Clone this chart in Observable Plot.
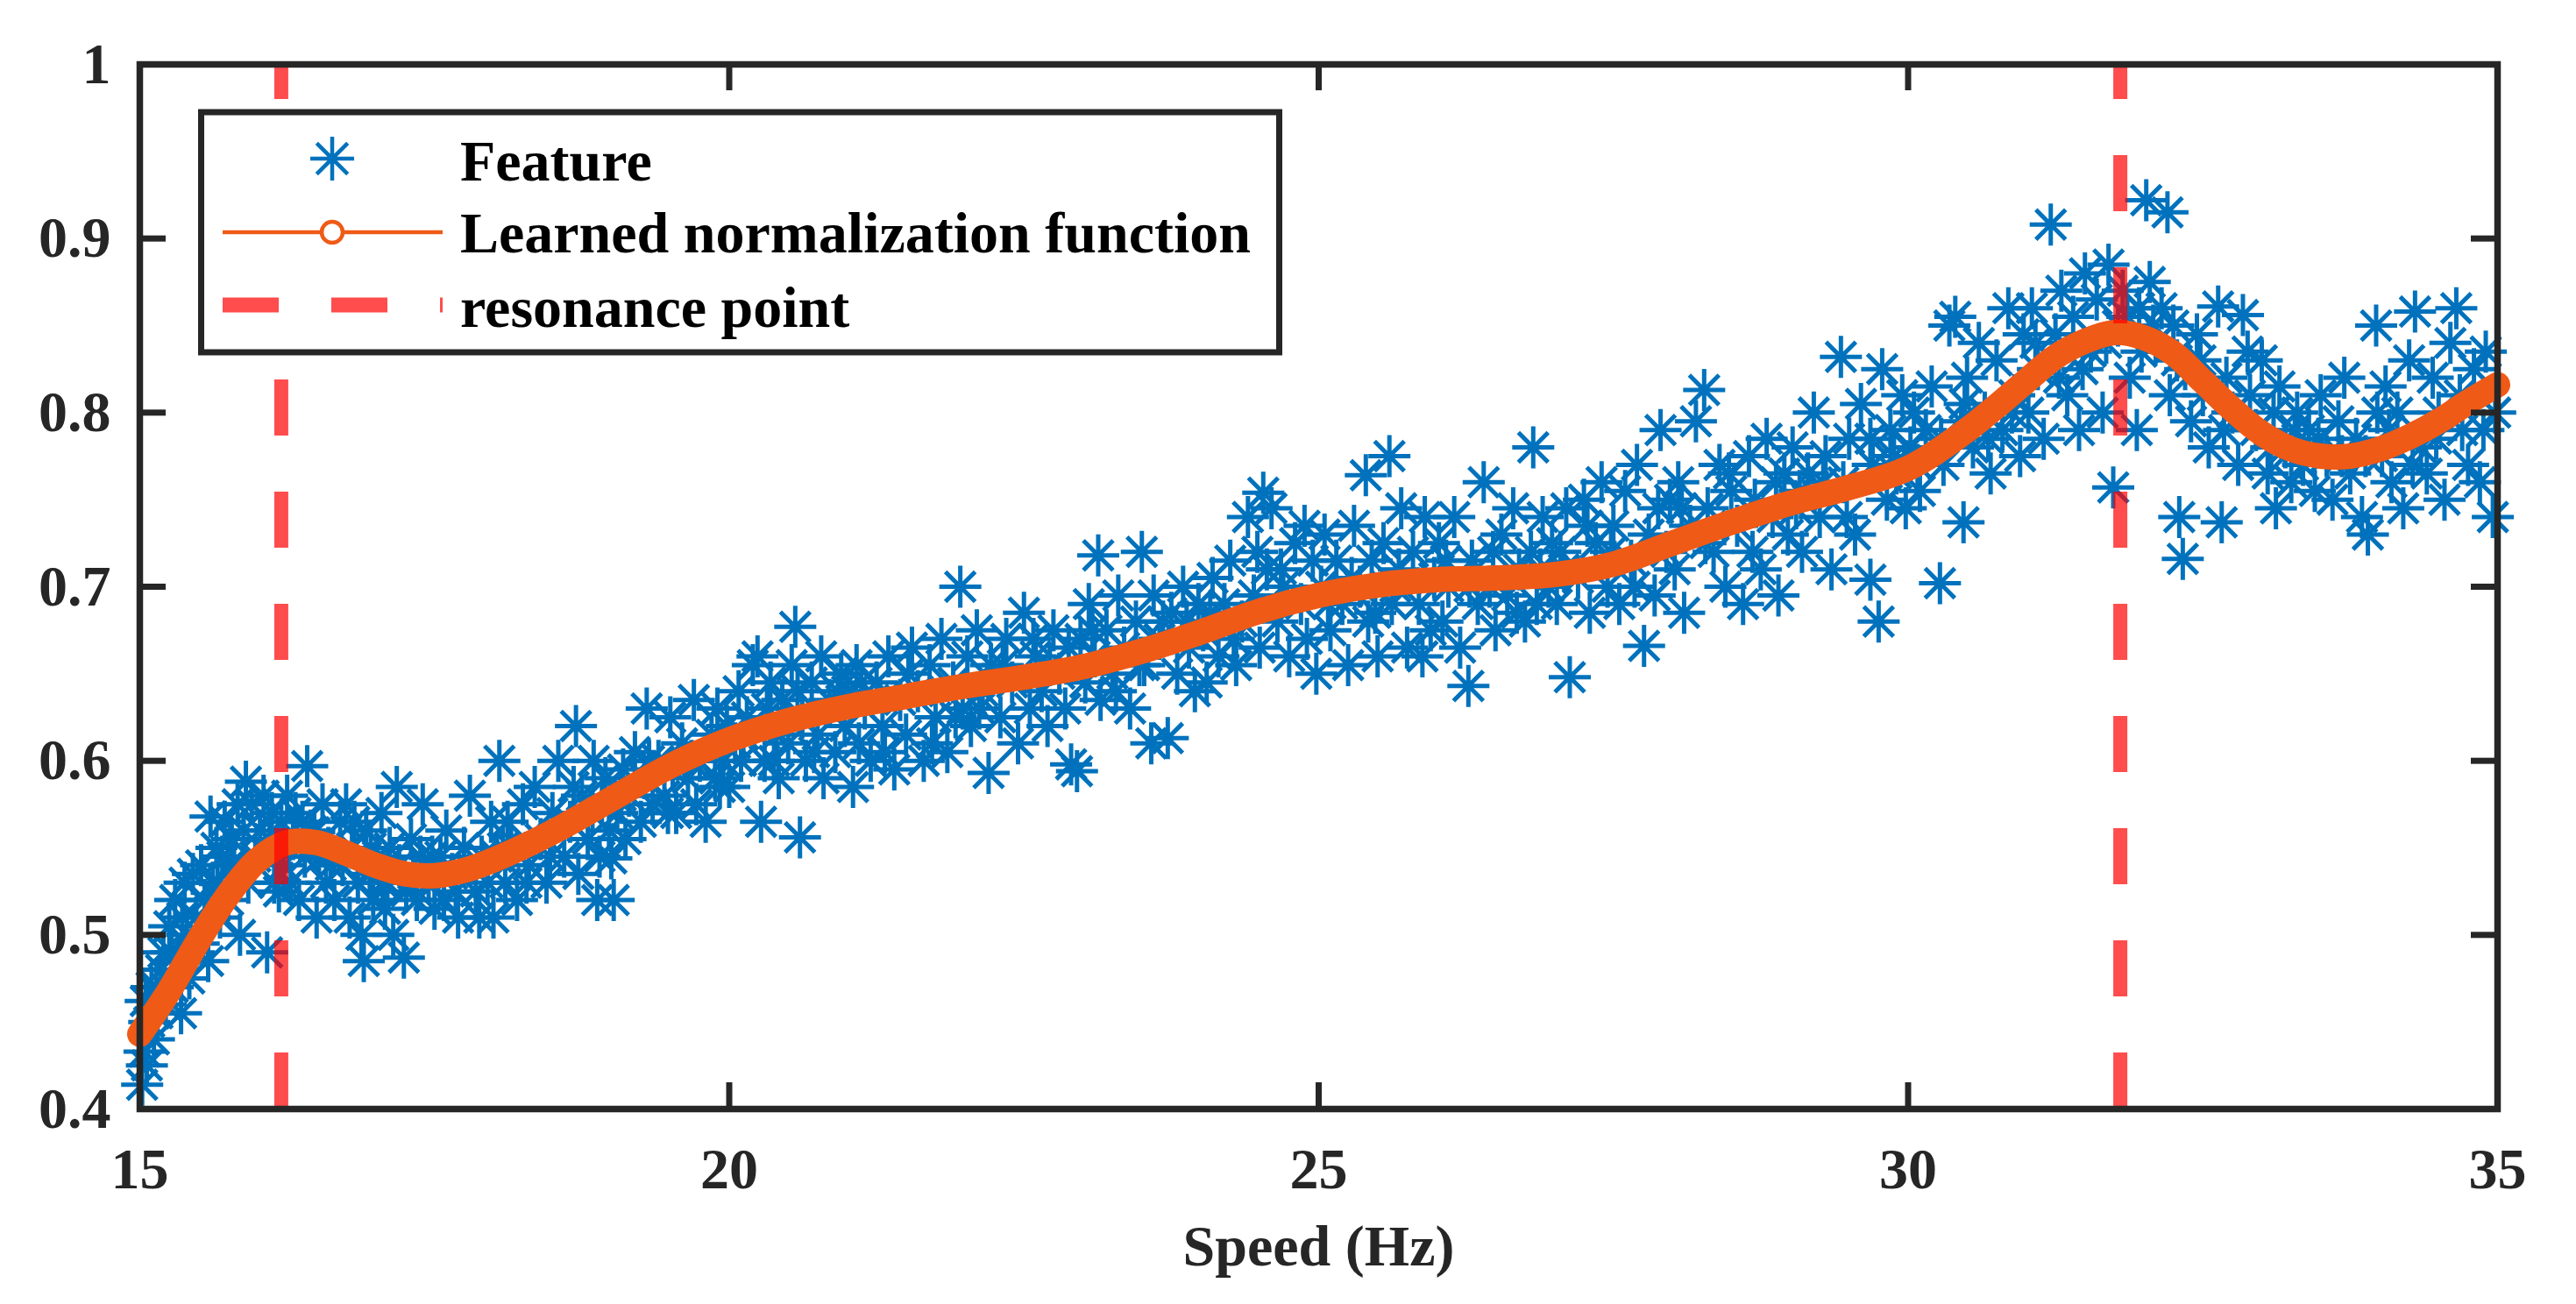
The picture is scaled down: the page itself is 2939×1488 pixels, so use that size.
<!DOCTYPE html>
<html>
<head>
<meta charset="utf-8">
<script src="https://cdn.jsdelivr.net/npm/d3@7"></script>
<script src="https://cdn.jsdelivr.net/npm/@observablehq/plot@0.6"></script>
<style>
  body { margin: 0; background: #fff; overflow: hidden; }
  #wrap { position: relative; width: 2939px; height: 1488px; }
  #legend { position: absolute; left: 222px; top: 120px; }
</style>
</head>
<body>
<div id="wrap">
  <div id="grafico"></div>
  <svg id="legend" width="1250" height="295"></svg>
</div>
<script>
// ejes
const xTicks = [15, 20, 25, 30, 35]
const yTicks = [0.4, 0.5, 0.6, 0.7, 0.8, 0.9, 1]
const xLabel = 'Speed (Hz)'
const legendLabels = ['Feature', 'Learned normalization function', 'resonance point']

// puntos de resonancia (Hz)
const resonance = [16.2, 31.8]

// curva aprendida
const curveSpeed = [15, 15.25, 15.5, 15.75, 16, 16.25, 16.5, 16.75, 17, 17.25, 17.5, 17.75, 18, 18.5, 19, 19.5,
  20, 20.5, 21, 21.5, 22, 22.5, 23, 23.5, 24, 24.5, 25, 25.5, 26, 26.5, 27, 27.5, 28, 28.5, 29, 29.5,
  30, 30.5, 31, 31.25, 31.5, 31.75, 32, 32.25, 32.5, 32.75, 33, 33.25, 33.5, 33.75, 34, 34.25, 34.5, 34.75, 35]
const curveValue = [0.443, 0.468, 0.497, 0.523, 0.543, 0.553, 0.553, 0.547, 0.54, 0.535, 0.534, 0.537, 0.543, 0.559, 0.578, 0.597,
  0.612, 0.623, 0.631, 0.637, 0.643, 0.648, 0.654, 0.663, 0.674, 0.686, 0.695, 0.701, 0.704, 0.705, 0.707, 0.713, 0.725, 0.737, 0.748, 0.757,
  0.768, 0.79, 0.818, 0.832, 0.841, 0.846, 0.843, 0.834, 0.818, 0.802, 0.788, 0.779, 0.775, 0.775, 0.779, 0.786, 0.795, 0.806, 0.816]

// features [speed, value]
const featurePoints = [
  [15.02,0.414],[15.04,0.433],[15.05,0.462],[15.08,0.45],[15.1,0.47],[15.12,0.44],[15.15,0.455],[15.18,0.48],[15.2,0.49],[15.22,0.46],
  [15.25,0.505],[15.28,0.47],[15.3,0.52],[15.32,0.485],[15.35,0.455],[15.38,0.53],[15.4,0.5],[15.42,0.475],[15.45,0.535],[15.48,0.51],
  [15.5,0.495],[15.52,0.54],[15.55,0.52],[15.58,0.485],[15.6,0.568],[15.62,0.53],[15.65,0.55],[15.68,0.51],[15.7,0.545],[15.72,0.565],
  [15.75,0.52],[15.78,0.555],[15.8,0.54],[15.83,0.575],[15.85,0.5],[15.88,0.56],[15.9,0.588],[15.92,0.53],[15.95,0.575],[15.98,0.545],
  [15.06,0.425],[15.14,0.47],[15.27,0.49],[15.36,0.51],[15.46,0.49],[15.66,0.53],[15.76,0.54],
  [16.02,0.56],[16.05,0.58],[16.08,0.49],[16.1,0.555],[16.12,0.57],[16.15,0.545],[16.18,0.525],[16.2,0.565],[16.22,0.54],[16.25,0.58],
  [16.28,0.53],[16.3,0.555],[16.32,0.57],[16.35,0.52],[16.4,0.545],[16.42,0.597],[16.45,0.56],[16.48,0.559],[16.5,0.51],[16.52,0.544],
  [16.55,0.575],[16.58,0.53],[16.6,0.55],[16.65,0.52],[16.7,0.565],[16.72,0.54],[16.75,0.575],[16.78,0.51],[16.8,0.55],[16.85,0.53],
  [16.88,0.5],[16.9,0.485],[16.92,0.56],[16.95,0.535],[16.98,0.52],
  [16.14,0.53],[16.38,0.565],[16.62,0.54],[16.82,0.565],[16.96,0.55],
  [17.02,0.545],[17.05,0.57],[17.08,0.515],[17.1,0.53],[17.12,0.55],[17.15,0.5],[17.18,0.585],[17.2,0.54],[17.24,0.487],[17.26,0.525],
  [17.3,0.555],[17.35,0.52],[17.38,0.545],[17.4,0.575],[17.45,0.53],[17.5,0.515],[17.55,0.545],[17.58,0.52],[17.6,0.56],[17.65,0.535],
  [17.7,0.51],[17.75,0.55],[17.8,0.58],[17.85,0.525],[17.9,0.545],[17.95,0.53],[17.98,0.565],
  [17.06,0.53],[17.32,0.535],[17.48,0.545],[17.68,0.525],[17.88,0.51],
  [18.0,0.51],[18.03,0.545],[18.05,0.6],[18.1,0.53],[18.12,0.565],[18.15,0.55],[18.2,0.52],[18.25,0.575],[18.3,0.54],[18.35,0.585],
  [18.4,0.555],[18.45,0.53],[18.5,0.57],[18.55,0.6],[18.6,0.545],[18.65,0.565],[18.7,0.62],[18.72,0.535],[18.75,0.58],[18.8,0.555],
  [18.85,0.6],[18.88,0.52],[18.9,0.545],[18.92,0.575],[18.95,0.59],[18.98,0.56],
  [18.08,0.55],[18.28,0.53],[18.48,0.545],[18.68,0.585],[18.84,0.57],
  [19.0,0.544],[19.02,0.52],[19.05,0.57],[19.1,0.595],[19.12,0.555],[19.15,0.58],[19.2,0.605],[19.25,0.565],[19.28,0.59],[19.3,0.63],
  [19.35,0.575],[19.4,0.6],[19.45,0.58],[19.5,0.625],[19.52,0.595],[19.55,0.57],[19.6,0.61],[19.65,0.59],[19.7,0.635],[19.72,0.575],
  [19.75,0.6],[19.8,0.565],[19.85,0.615],[19.88,0.59],[19.9,0.63],[19.95,0.6],[19.98,0.62],
  [19.08,0.58],[19.32,0.6],[19.48,0.57],[19.68,0.6],[19.92,0.585],
  [20.0,0.585],[20.05,0.61],[20.08,0.64],[20.1,0.6],[20.15,0.625],[20.2,0.655],[20.24,0.66],[20.27,0.565],[20.3,0.6],[20.32,0.63],
  [20.35,0.645],[20.4,0.615],[20.42,0.59],[20.45,0.635],[20.5,0.61],[20.53,0.655],[20.56,0.677],[20.6,0.556],[20.62,0.625],[20.65,0.6],
  [20.7,0.645],[20.75,0.615],[20.78,0.66],[20.8,0.59],[20.85,0.635],[20.9,0.605],[20.95,0.65],[20.98,0.62],
  [20.12,0.615],[20.38,0.6],[20.58,0.64],[20.72,0.605],[20.92,0.64],
  [21.0,0.64],[21.05,0.585],[21.08,0.655],[21.1,0.61],[21.15,0.63],[21.2,0.6],[21.25,0.645],[21.3,0.62],[21.35,0.66],[21.4,0.595],
  [21.45,0.635],[21.5,0.615],[21.55,0.665],[21.6,0.64],[21.65,0.6],[21.7,0.655],[21.75,0.625],[21.8,0.67],[21.85,0.605],[21.9,0.645],
  [21.96,0.7],[21.98,0.63],
  [21.12,0.645],[21.32,0.605],[21.52,0.65],[21.72,0.61],[21.92,0.625],
  [22.02,0.66],[22.05,0.62],[22.1,0.675],[22.15,0.64],[22.2,0.593],[22.22,0.655],[22.3,0.625],[22.35,0.67],[22.4,0.645],[22.45,0.61],
  [22.5,0.685],[22.55,0.63],[22.6,0.66],[22.65,0.64],[22.7,0.62],[22.75,0.675],[22.8,0.65],[22.85,0.63],[22.9,0.598],[22.95,0.594],
  [22.98,0.67],
  [22.12,0.63],[22.32,0.655],[22.58,0.67],[22.72,0.655],[22.88,0.665],
  [23.02,0.645],[23.05,0.69],[23.1,0.66],[23.13,0.718],[23.15,0.635],[23.2,0.675],[23.25,0.65],[23.3,0.695],[23.35,0.665],[23.4,0.63],
  [23.45,0.68],[23.5,0.72],[23.52,0.655],[23.58,0.61],[23.6,0.695],[23.65,0.67],[23.72,0.613],[23.75,0.685],[23.8,0.65],[23.85,0.7],
  [23.9,0.665],[23.95,0.64],[23.98,0.69],
  [23.08,0.675],[23.28,0.64],[23.48,0.655],[23.68,0.68],[23.88,0.68],
  [24.02,0.675],[24.05,0.645],[24.1,0.705],[24.15,0.66],[24.2,0.69],[24.25,0.715],[24.3,0.655],[24.35,0.68],[24.4,0.74],[24.45,0.695],
  [24.5,0.665],[24.53,0.754],[24.56,0.71],[24.6,0.745],[24.65,0.68],[24.7,0.7],[24.75,0.66],[24.8,0.725],[24.85,0.69],[24.9,0.67],
  [24.95,0.715],[24.98,0.65],
  [24.08,0.685],[24.28,0.67],[24.48,0.72],[24.68,0.71],[24.88,0.735],
  [25.02,0.7],[25.05,0.73],[25.1,0.675],[25.15,0.715],[25.2,0.69],[25.25,0.655],[25.3,0.735],[25.35,0.7],[25.4,0.764],[25.42,0.68],
  [25.45,0.715],[25.5,0.66],[25.55,0.725],[25.6,0.775],[25.62,0.69],[25.65,0.7],[25.7,0.745],[25.75,0.665],[25.8,0.72],[25.85,0.69],
  [25.9,0.74],[25.95,0.675],[25.98,0.705],
  [25.08,0.69],[25.28,0.705],[25.48,0.685],[25.68,0.71],[25.88,0.66],
  [26.02,0.725],[26.05,0.68],[26.1,0.7],[26.15,0.74],[26.2,0.665],[26.27,0.643],[26.3,0.715],[26.35,0.69],[26.4,0.76],[26.45,0.7],
  [26.5,0.675],[26.55,0.73],[26.6,0.695],[26.65,0.745],[26.7,0.71],[26.75,0.68],[26.8,0.72],[26.82,0.78],[26.85,0.69],[26.9,0.74],
  [26.95,0.7],[26.98,0.725],
  [26.08,0.715],[26.28,0.7],[26.48,0.72],[26.68,0.685],[26.88,0.71],
  [27.02,0.69],[27.05,0.72],[27.1,0.745],[27.13,0.648],[27.2,0.705],[27.25,0.75],[27.3,0.685],[27.35,0.725],[27.4,0.76],[27.45,0.7],
  [27.5,0.735],[27.55,0.69],[27.6,0.755],[27.65,0.715],[27.7,0.77],[27.76,0.666],[27.8,0.73],[27.85,0.695],[27.9,0.79],[27.95,0.72],
  [27.98,0.75],
  [27.08,0.71],[27.28,0.735],[27.48,0.72],[27.68,0.7],[27.88,0.745],
  [28.02,0.71],[28.05,0.76],[28.1,0.685],[28.15,0.735],[28.2,0.795],[28.27,0.813],[28.3,0.745],[28.35,0.72],[28.4,0.77],[28.45,0.7],
  [28.5,0.755],[28.55,0.735],[28.6,0.69],[28.65,0.775],[28.7,0.75],[28.75,0.71],[28.8,0.785],[28.85,0.74],[28.9,0.695],[28.95,0.765],
  [28.98,0.73],
  [28.08,0.745],[28.28,0.725],[28.48,0.765],[28.68,0.72],[28.88,0.76],
  [29.02,0.78],[29.05,0.745],[29.1,0.72],[29.15,0.765],[29.2,0.8],[29.25,0.74],[29.3,0.775],[29.35,0.71],[29.43,0.832],[29.45,0.76],
  [29.5,0.785],[29.55,0.73],[29.6,0.805],[29.68,0.704],[29.7,0.77],[29.75,0.68],[29.78,0.825],[29.82,0.75],[29.85,0.79],[29.9,0.765],
  [29.95,0.81],[29.98,0.745],
  [29.08,0.755],[29.28,0.76],[29.48,0.74],[29.68,0.785],[29.88,0.775],
  [30.02,0.78],[30.05,0.8],[30.1,0.755],[30.15,0.79],[30.2,0.815],[30.27,0.702],[30.3,0.77],[30.35,0.85],[30.4,0.855],[30.45,0.795],
  [30.47,0.737],[30.5,0.82],[30.55,0.78],[30.6,0.84],[30.65,0.8],[30.7,0.765],[30.75,0.83],[30.8,0.79],[30.85,0.86],[30.9,0.81],
  [30.95,0.775],[30.98,0.845],
  [30.08,0.77],[30.28,0.785],[30.48,0.805],[30.68,0.785],[30.88,0.8],
  [31.02,0.8],[31.05,0.86],[31.1,0.825],[31.15,0.785],[31.21,0.908],[31.25,0.845],[31.3,0.87],[31.35,0.81],[31.4,0.855],[31.45,0.79],
  [31.5,0.88],[31.55,0.835],[31.6,0.865],[31.65,0.8],[31.7,0.885],[31.74,0.757],[31.78,0.85],[31.82,0.87],[31.88,0.82],[31.94,0.79],
  [31.96,0.86],[31.98,0.835],
  [31.08,0.84],[31.28,0.82],[31.48,0.825],[31.68,0.84],[31.86,0.855],
  [32.02,0.922],[32.05,0.875],[32.1,0.84],[32.15,0.86],[32.2,0.915],[32.22,0.81],[32.25,0.85],[32.3,0.74],[32.33,0.716],[32.35,0.825],
  [32.4,0.795],[32.45,0.845],[32.5,0.81],[32.55,0.78],[32.63,0.861],[32.66,0.737],[32.7,0.82],[32.75,0.8],[32.8,0.77],[32.84,0.856],
  [32.9,0.81],[32.95,0.79],
  [32.08,0.85],[32.28,0.83],[32.48,0.83],[32.68,0.79],[32.88,0.835],
  [33.0,0.83],[33.05,0.765],[33.1,0.8],[33.12,0.745],[33.15,0.815],[33.2,0.78],[33.25,0.76],[33.3,0.8],[33.35,0.77],[33.4,0.79],
  [33.45,0.755],[33.5,0.81],[33.55,0.775],[33.6,0.75],[33.65,0.795],[33.7,0.82],[33.75,0.765],[33.8,0.785],[33.85,0.74],[33.9,0.73],
  [33.97,0.85],[33.98,0.8],
  [33.08,0.78],[33.28,0.79],[33.48,0.785],[33.68,0.775],[33.88,0.775],
  [34.02,0.775],[34.05,0.815],[34.1,0.76],[34.15,0.8],[34.2,0.745],[34.25,0.83],[34.3,0.858],[34.35,0.78],[34.4,0.765],[34.45,0.82],
  [34.5,0.8],[34.55,0.75],[34.6,0.84],[34.65,0.86],[34.7,0.79],[34.75,0.77],[34.8,0.825],[34.85,0.76],[34.9,0.835],[34.96,0.74],
  [34.98,0.8],
  [34.08,0.79],[34.28,0.77],[34.48,0.785],[34.68,0.81],[34.88,0.79]
]

const blue = '#0072BD'
const orange = '#EF5A17'
const axisColor = '#262626'
const font = '"Liberation Serif", "Times New Roman", serif'

// asterisco tipo MATLAB (8 brazos)
const asterisk = {
  draw(ctx, size) {
    const r = Math.sqrt(size / Math.PI)
    const d = r * Math.SQRT1_2
    ctx.moveTo(-r, 0); ctx.lineTo(r, 0)
    ctx.moveTo(0, -r); ctx.lineTo(0, r)
    ctx.moveTo(-d, -d); ctx.lineTo(d, d)
    ctx.moveTo(-d, d); ctx.lineTo(d, -d)
  },
}

const curve = curveSpeed.map((s, i) => ({ speed: s, value: curveValue[i] }))

const W = 2939, H = 1488
const mL = 159, mR = 90, mT = 73, mB = 223
const innerW = W - mL - mR, innerH = H - mT - mB
const tick = 30

let chart = Plot.plot({
  width: W,
  height: H,
  marginLeft: mL,
  marginRight: mR,
  marginTop: mT,
  marginBottom: mB,
  style: { fontFamily: font, fontSize: '66px', fontWeight: 'bold', color: axisColor, background: '#fff' },
  x: { domain: [15, 35] },
  y: { domain: [0.4, 1] },
  marks: [
    Plot.dot(featurePoints, {
      x: d => d[0], y: d => d[1], symbol: asterisk, r: 24,
      stroke: blue, strokeWidth: 5, fill: 'none',
    }),
    Plot.line(curve, {
      x: 'speed', y: 'value', curve: 'catmull-rom',
      stroke: orange, strokeWidth: 29, strokeLinecap: 'round', strokeLinejoin: 'round',
    }),
    Plot.ruleX(resonance, {
      x: d => d, y1: 0.4, y2: 1,
      stroke: '#FF0000', strokeOpacity: 0.7, strokeWidth: 16, strokeDasharray: '64,64',
    }),
    Plot.frame({ stroke: axisColor, strokeWidth: 7.5 }),
    // ticks hacia adentro en los 4 lados
    Plot.tickX(xTicks, { x: d => d, insetTop: innerH - tick, stroke: axisColor, strokeWidth: 7 }),
    Plot.tickX(xTicks, { x: d => d, insetBottom: innerH - tick, stroke: axisColor, strokeWidth: 7 }),
    Plot.tickY(yTicks, { y: d => d, insetRight: innerW - tick, stroke: axisColor, strokeWidth: 7 }),
    Plot.tickY(yTicks, { y: d => d, insetLeft: innerW - tick, stroke: axisColor, strokeWidth: 7 }),
    Plot.axisX({ ticks: xTicks, tickSize: 0, tickPadding: 44, tickFormat: d => String(d), label: null }),
    Plot.axisY({ ticks: yTicks, tickSize: 0, tickPadding: 33, tickFormat: d => String(d), label: null }),
    Plot.text([xLabel], { text: d => d, frameAnchor: 'bottom', lineAnchor: 'middle', dy: 157, fill: axisColor }),
  ],
})
d3.select('#grafico').append(() => chart)

// leyenda
const leg = d3.select('#legend')
leg.append('rect')
  .attr('x', 7.5).attr('y', 8).attr('width', 1230).attr('height', 274)
  .attr('fill', '#fff').attr('stroke', axisColor).attr('stroke-width', 7)

const rowY = [61, 145, 228]
const baseY = [86, 168, 253]

leg.append('path')
  .attr('transform', `translate(157,${rowY[0]})`)
  .attr('d', d3.symbol(asterisk, 25 * 25 * Math.PI)())
  .attr('fill', 'none').attr('stroke', blue).attr('stroke-width', 4.5)

leg.append('line')
  .attr('x1', 32).attr('x2', 283).attr('y1', rowY[1]).attr('y2', rowY[1])
  .attr('stroke', orange).attr('stroke-width', 4.5)
leg.append('circle')
  .attr('cx', 157).attr('cy', rowY[1]).attr('r', 12)
  .attr('fill', '#fff').attr('stroke', orange).attr('stroke-width', 4.5)

leg.append('line')
  .attr('x1', 32).attr('x2', 283).attr('y1', rowY[2]).attr('y2', rowY[2])
  .attr('stroke', '#FF0000').attr('stroke-opacity', 0.7).attr('stroke-width', 17)
  .attr('stroke-dasharray', '64,60')

leg.selectAll('text.lbl')
  .data(legendLabels)
  .join('text')
  .attr('class', 'lbl')
  .attr('x', 303)
  .attr('y', (d, i) => baseY[i])
  .attr('font-family', font)
  .attr('font-size', 66)
  .attr('font-weight', 'bold')
  .attr('fill', '#000')
  .text(d => d)
</script>
</body>
</html>
